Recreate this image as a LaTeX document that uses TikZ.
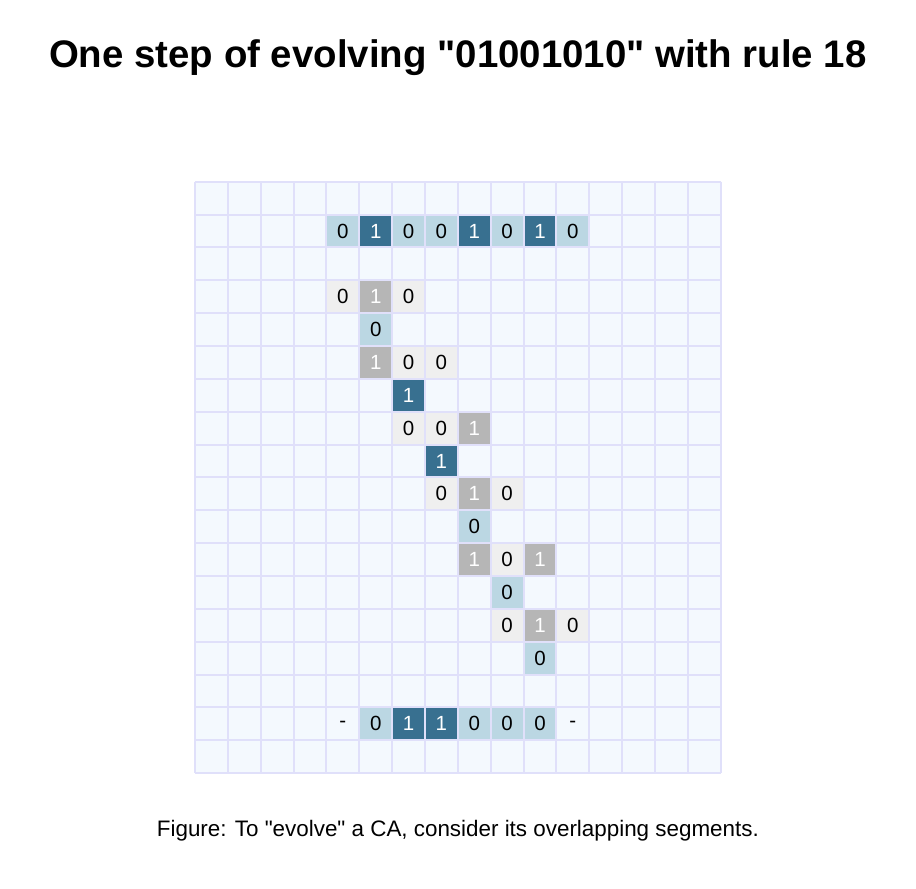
\documentclass[tikz,border=0pt]{standalone}
\usepackage{fontspec}
\setmainfont{Liberation Sans}[Ligatures=TeXOff]

\definecolor{gridbg}{HTML}{F4F9FE}
\definecolor{gridln}{HTML}{E0E0FA}
\definecolor{cellzero}{HTML}{BBD7E3}
\definecolor{cellone}{HTML}{387090}
\definecolor{segzerofill}{HTML}{EFEFEF}
\definecolor{segonefill}{HTML}{B6B6B6}

\tikzset{
    gridline/.style = {gridln, line width = 2pt},
    cell/.style = {draw = gridln, line width = 2pt, minimum size = 32.86pt,
        inner sep = 0pt, font = \fontsize{20.5}{20.5}\selectfont},
    zero/.style = {cell, fill = cellzero},
    one/.style = {cell, fill = cellone, text = white},
    segzero/.style = {cell, fill = segzerofill},
    segone/.style = {cell, fill = segonefill, text = white},
    edgecell/.style = {cell, draw = none}
}

\begin{document}
\begin{tikzpicture}[x = 32.86pt, y = -32.86pt]
        \fill[white] (-5.934, -5.530) rectangle (21.942, 21.494);
        \useasboundingbox (-5.934, -5.530) rectangle (21.942, 21.494);

        \fill[gridbg] (0, 0) rectangle (16, 18);
        \foreach \i in {0, ..., 16} \draw[gridline] (\i, 0) -- (\i, 18);
        \foreach \j in {0, ..., 18} \draw[gridline] (0, \j) -- (16, \j);

        % the state
        \node[zero] (s0) at (4.5, 1.5) {0};  \node[one] (s1) at (5.5, 1.5) {1};
        \node[zero] (s2) at (6.5, 1.5) {0};  \node[zero] (s3) at (7.5, 1.5) {0};
        \node[one] (s4) at (8.5, 1.5) {1};   \node[zero] (s5) at (9.5, 1.5) {0};
        \node[one] (s6) at (10.5, 1.5) {1};  \node[zero] (s7) at (11.5, 1.5) {0};

        % the segments and what each one gives
        \node[segzero] (a0) at (4.5, 3.5) {0};  \node[segone] (a1) at (5.5, 3.5) {1};  \node[segzero] (a2) at (6.5, 3.5) {0};
        \node[zero] (ra) at (5.5, 4.5) {0};
        \node[segone] (b0) at (5.5, 5.5) {1};  \node[segzero] (b1) at (6.5, 5.5) {0};  \node[segzero] (b2) at (7.5, 5.5) {0};
        \node[one] (rb) at (6.5, 6.5) {1};
        \node[segzero] (c0) at (6.5, 7.5) {0};  \node[segzero] (c1) at (7.5, 7.5) {0};  \node[segone] (c2) at (8.5, 7.5) {1};
        \node[one] (rc) at (7.5, 8.5) {1};
        \node[segzero] (d0) at (7.5, 9.5) {0};  \node[segone] (d1) at (8.5, 9.5) {1};  \node[segzero] (d2) at (9.5, 9.5) {0};
        \node[zero] (rd) at (8.5, 10.5) {0};
        \node[segone] (e0) at (8.5, 11.5) {1};  \node[segzero] (e1) at (9.5, 11.5) {0};  \node[segone] (e2) at (10.5, 11.5) {1};
        \node[zero] (re) at (9.5, 12.5) {0};
        \node[segzero] (f0) at (9.5, 13.5) {0};  \node[segone] (f1) at (10.5, 13.5) {1};  \node[segzero] (f2) at (11.5, 13.5) {0};
        \node[zero] (rf) at (10.5, 14.5) {0};

        % the next state
        \node[edgecell] (nleft) at (4.5, 16.5) {-};
        \node[zero] (n0) at (5.5, 16.5) {0};  \node[one] (n1) at (6.5, 16.5) {1};
        \node[one] (n2) at (7.5, 16.5) {1};   \node[zero] (n3) at (8.5, 16.5) {0};
        \node[zero] (n4) at (9.5, 16.5) {0};  \node[zero] (n5) at (10.5, 16.5) {0};
        \node[edgecell] (nright) at (11.5, 16.5) {-};

        \node[font = \fontsize{38.4}{38.4}\bfseries] (title) at (8.0, -3.78)
            {One step of evolving "01001010" with rule 18};
        \node[font = \fontsize{22.4}{22.4}\selectfont] (caption) at (8.0, 19.76)
            {Figure: To "evolve" a CA, consider its overlapping segments.};
    \end{tikzpicture}
\end{document}
